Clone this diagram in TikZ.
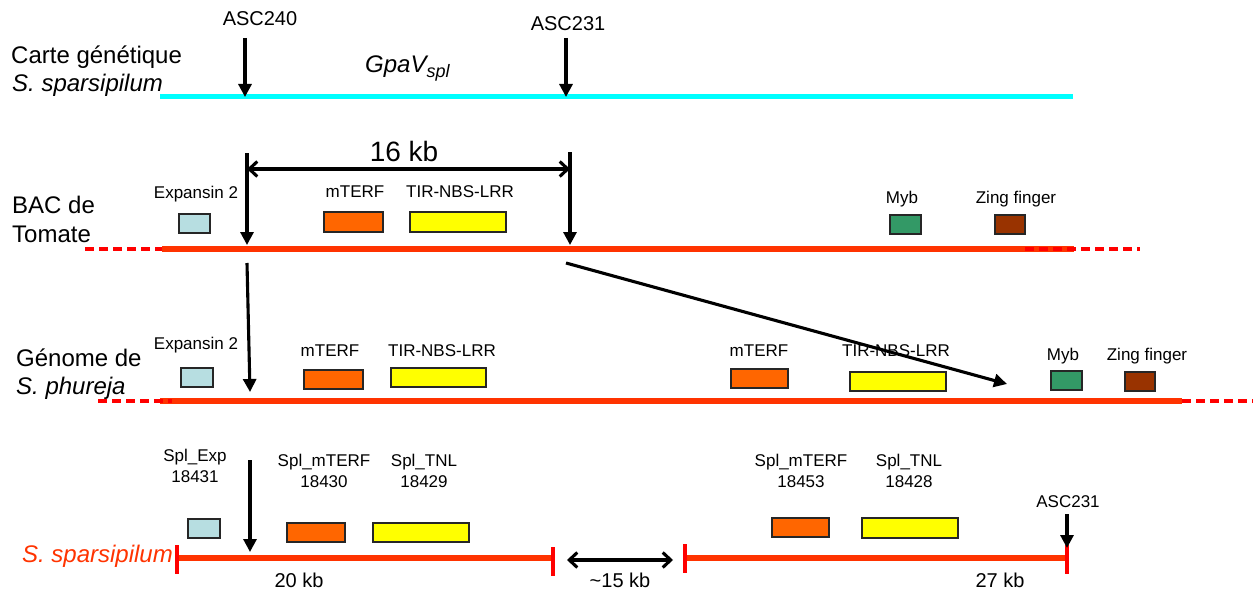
\documentclass[tikz,border=0pt]{standalone}
\usepackage{fontspec}
\setmainfont{Liberation Sans}
\usetikzlibrary{arrows.meta}
\definecolor{cy}{HTML}{00FFFF}
\definecolor{rl}{HTML}{FF3300}
\definecolor{rd}{HTML}{FF0000}
\definecolor{lb}{HTML}{B7DEE1}
\definecolor{og}{HTML}{FF6600}
\definecolor{ye}{HTML}{FFFF00}
\definecolor{gr}{HTML}{339966}
\definecolor{br}{HTML}{993300}
\begin{document}
\begin{tikzpicture}[x=1pt,y=-1pt,
  big/.style={font=\fontsize{24}{28}\selectfont, inner sep=0pt, anchor=base west},
  lbl/.style={font=\fontsize{17}{20}\selectfont, inner sep=0pt, anchor=base, align=center},
  mk/.style={font=\fontsize{20}{24}\selectfont, inner sep=0pt, anchor=base},
  gene/.style={draw=black!85, line width=1.5pt, inner sep=0pt, anchor=north west},
  arr/.style={line width=3.1pt, -{Triangle[width=13pt,length=13pt]}},
  dbl/.style={line width=3.1pt, {Straight Barb[length=8pt,width=15pt]}-{Straight Barb[length=8pt,width=15pt]}},
  solidred/.style={rl, line width=5.5pt},
  dashred/.style={rd, line width=3.5pt, dash pattern=on 9pt off 5pt},
  tickm/.style={rd, line width=3.5pt}
]
\useasboundingbox (0,0) rectangle (1255,591);

% ---------- Row 1: genetic map ----------
\node[big] (t1a) at (11,64) {Carte génétique};
\node[big] (t1b) at (12,92) {\itshape S. sparsipilum};
\node[big] (gpa) at (365,73) {\itshape GpaV\textsubscript{\fontsize{18}{20}\selectfont spl}};
\coordinate (cL) at (160,97); \coordinate (cR) at (1073,97);
\draw[cy, line width=5pt] (cL) -- (cR);
\node[mk] (asc240) at (260,26) {ASC240};
\node[mk] (asc231) at (568,31) {ASC231};
\coordinate (a1s) at (245,38); \coordinate (a1e) at (245,97);
\coordinate (a2s) at (566,38); \coordinate (a2e) at (566,97);
\draw[arr] (a1s) -- (a1e);
\draw[arr] (a2s) -- (a2e);

% ---------- Row 2: BAC de Tomate ----------
\node[big] (t2a) at (12,213) {BAC de};
\node[big] (t2b) at (12,242) {Tomate};
\node[font=\fontsize{28}{32}\selectfont, inner sep=0pt, anchor=base] (kb16) at (404,161) {16 kb};
\coordinate (d1) at (247,169); \coordinate (d2) at (570,169);
\draw[dbl] (d1) -- (d2);
\coordinate (v1s) at (247,153); \coordinate (v1e) at (247,245);
\coordinate (v2s) at (570,152); \coordinate (v2e) at (570,245);
\draw[arr] (v1s) -- (v1e);
\draw[arr] (v2s) -- (v2e);
\coordinate (b2L) at (162,249); \coordinate (b2R) at (1074,249);
\coordinate (b2dl) at (85,249); \coordinate (b2dr) at (1140,249);
\draw[solidred] (b2L) -- (b2R);
\draw[dashred] (b2dl) -- (b2L);
\draw[dashred] (1025,249) -- (b2dr);

\node[lbl] (l2exp) at (196,198) {Expansin 2};
\node[gene, fill=lb, minimum width=31pt, minimum height=19pt] (g2exp) at (178,213) {};
\node[lbl] (l2mt) at (355,197) {mTERF};
\node[gene, fill=og, minimum width=59pt, minimum height=20pt] (g2mt) at (323,211) {};
\node[lbl] (l2tir) at (460,197) {TIR-NBS-LRR};
\node[gene, fill=ye, minimum width=96pt, minimum height=20pt] (g2tir) at (409,211) {};
\node[lbl] (l2myb) at (902,203) {Myb};
\node[gene, fill=gr, minimum width=31pt, minimum height=19pt] (g2myb) at (889,214) {};
\node[lbl] (l2zf) at (1016,203) {Zing finger};
\node[gene, fill=br, minimum width=30pt, minimum height=19pt] (g2zf) at (994,214) {};

% connecting arrows
\coordinate (x1s) at (247,263); \coordinate (x1e) at (250,392);
\coordinate (x2s) at (566,263); \coordinate (x2e) at (1007,384);
\draw[arr] (x1s) -- (x1e);
\draw[arr] (x2s) -- (x2e);

% ---------- Row 3: Génome de S. phureja ----------
\node[big] (t3a) at (16,366) {Génome de};
\node[big] (t3b) at (16,394) {\itshape S. phureja};
\coordinate (b3L) at (160,401); \coordinate (b3R) at (1182,401);
\coordinate (b3dl) at (98,401); \coordinate (b3dr) at (1253,401);
\draw[solidred] (b3L) -- (b3R);
\draw[dashred] (b3dl) -- (172,401);
\draw[dashred] (b3R) -- (b3dr);

\node[lbl] (l3exp) at (196,349) {Expansin 2};
\node[gene, fill=lb, minimum width=32pt, minimum height=19pt] (g3exp) at (180,367) {};
\node[lbl] (l3mt1) at (330,356) {mTERF};
\node[gene, fill=og, minimum width=59pt, minimum height=19pt] (g3mt1) at (303,369) {};
\node[lbl] (l3tir1) at (442,356) {TIR-NBS-LRR};
\node[gene, fill=ye, minimum width=95pt, minimum height=19pt] (g3tir1) at (390,367) {};
\node[lbl] (l3mt2) at (759,356) {mTERF};
\node[gene, fill=og, minimum width=57pt, minimum height=19pt] (g3mt2) at (730,368) {};
\node[lbl] (l3tir2) at (896,356) {TIR-NBS-LRR};
\node[gene, fill=ye, minimum width=96pt, minimum height=19pt] (g3tir2) at (849,371) {};
\node[lbl] (l3myb) at (1063,360) {Myb};
\node[gene, fill=gr, minimum width=31pt, minimum height=19pt] (g3myb) at (1050,370) {};
\node[lbl] (l3zf) at (1147,360) {Zing finger};
\node[gene, fill=br, minimum width=30pt, minimum height=19pt] (g3zf) at (1124,371) {};

% ---------- Row 4: S. sparsipilum ----------
\node[font=\fontsize{24}{28}\selectfont\itshape, text=rl, inner sep=0pt, anchor=base east] (t4) at (173,562) {S. sparsipilum};
\coordinate (s1L) at (177,558); \coordinate (s1R) at (553,558);
\coordinate (s2L) at (685,558); \coordinate (s2R) at (1067,558);
\draw[solidred] (s1L) -- (s1R);
\draw[solidred] (s2L) -- (s2R);
\draw[tickm] (177,545) -- (177,574);
\draw[tickm] (553,547) -- (553,576);
\draw[tickm] (685,544) -- (685,573);
\draw[tickm] (1067,545) -- (1067,574);
\node[mk] (kb20) at (299,587) {20 kb};
\node[mk] (kb15) at (620,587) {\textasciitilde 15 kb};
\node[mk] (kb27) at (1000,587) {27 kb};
\coordinate (e1) at (567,560); \coordinate (e2) at (673,560);
\draw[dbl] (e1) -- (e2);
\coordinate (y1s) at (250,460); \coordinate (y1e) at (250,552);
\draw[arr] (y1s) -- (y1e);
\node[lbl] (l4asc) at (1068,507) {ASC231};
\coordinate (y2s) at (1067,514); \coordinate (y2e) at (1067,548);
\draw[arr] (y2s) -- (y2e);

\node[lbl] (l4exp) at (195,482) {Spl\_Exp\\[1pt]18431};
\node[gene, fill=lb, minimum width=32pt, minimum height=19pt] (g4exp) at (187,518) {};
\node[lbl] (l4mt1) at (324,487) {Spl\_mTERF\\[1pt]18430};
\node[gene, fill=og, minimum width=58pt, minimum height=19pt] (g4mt1) at (286,522) {};
\node[lbl] (l4tnl1) at (424,487) {Spl\_TNL\\[1pt]18429};
\node[gene, fill=ye, minimum width=96pt, minimum height=19pt] (g4tnl1) at (372,522) {};
\node[lbl] (l4mt2) at (801,487) {Spl\_mTERF\\[1pt]18453};
\node[gene, fill=og, minimum width=57pt, minimum height=19pt] (g4mt2) at (771,517) {};
\node[lbl] (l4tnl2) at (909,487) {Spl\_TNL\\[1pt]18428};
\node[gene, fill=ye, minimum width=96pt, minimum height=20pt] (g4tnl2) at (861,517) {};
\end{tikzpicture}
\end{document}
